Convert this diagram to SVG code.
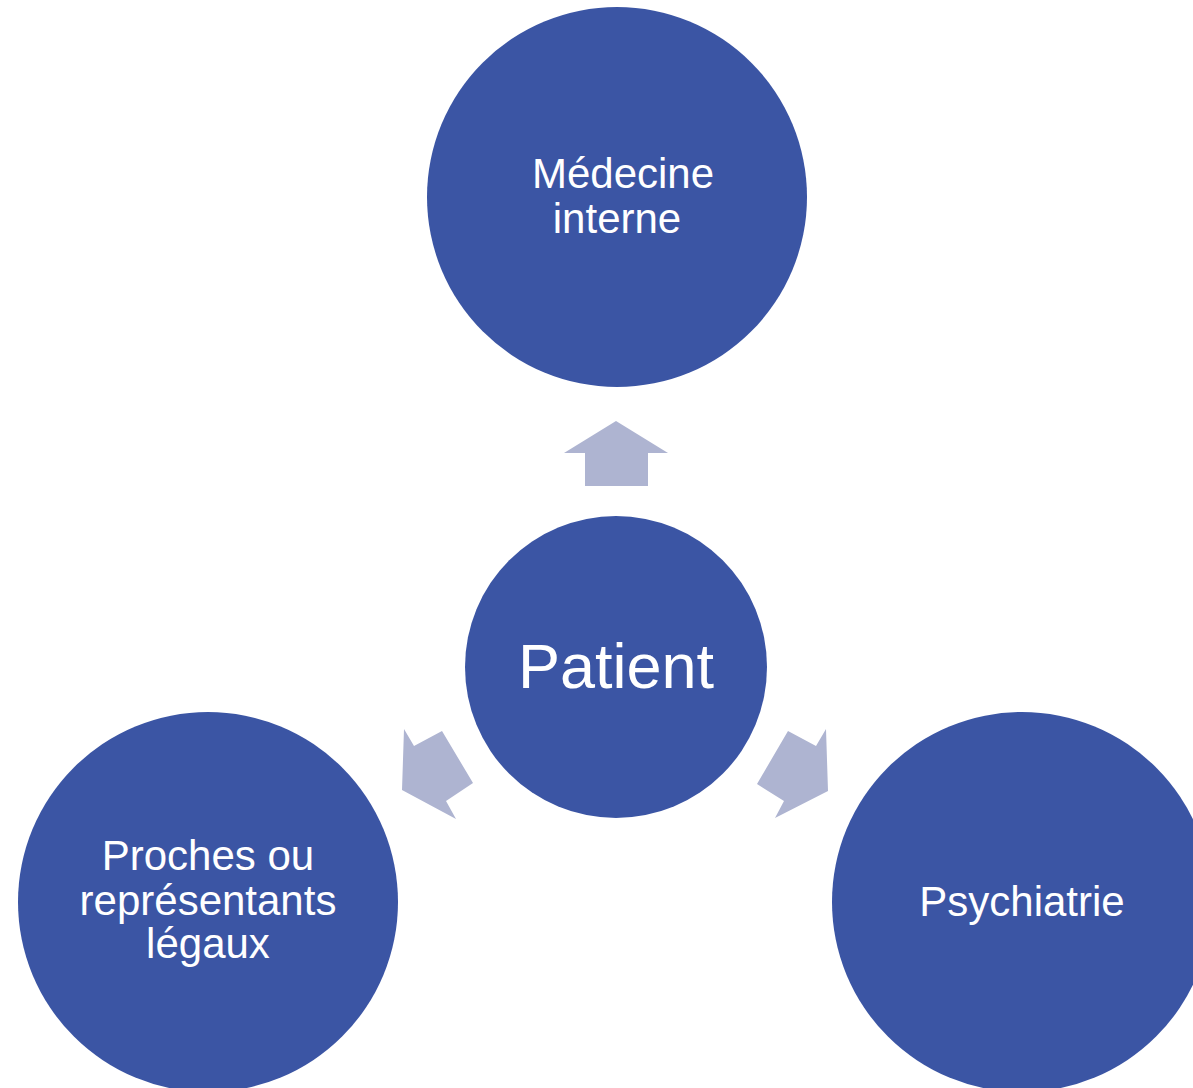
<svg xmlns="http://www.w3.org/2000/svg" width="1193" height="1088" viewBox="0 0 1193 1088">
<style>
.node{fill:#3B55A4}
.arrow{fill:#AEB4D1}
text{fill:#FFFFFF;font-family:"Liberation Sans",Arial,sans-serif;text-anchor:middle}
.t{font-size:42px}
.big{font-size:63px}
</style>
<rect width="1193" height="1088" fill="#FFFFFF"/>
<g id="connectors">
<polygon class="arrow" points="616,421 668,453 648,453 648,486 585,486 585,453 564,453"/>
<polygon class="arrow" points="404,729 414,746 442,731 473,783 446,801 456,819 402,790"/>
<polygon class="arrow" points="826,729 816,746 788,731 757,784 784,801 775,818 828,791"/>
</g>
<g id="medecine">
<circle class="node" cx="617" cy="197" r="190"/>
<text class="t" x="623" y="188">Médecine</text>
<text class="t" x="617" y="233">interne</text>
</g>
<g id="patient">
<circle class="node" cx="616" cy="667" r="151"/>
<text class="big" x="616" y="688">Patient</text>
</g>
<g id="proches">
<circle class="node" cx="208" cy="902" r="190"/>
<text class="t" x="208" y="870">Proches ou</text>
<text class="t" x="208" y="915">représentants</text>
<text class="t" x="208" y="958">légaux</text>
</g>
<g id="psychiatrie">
<circle class="node" cx="1022" cy="902" r="190"/>
<text class="t" x="1022" y="916">Psychiatrie</text>
</g>
</svg>
